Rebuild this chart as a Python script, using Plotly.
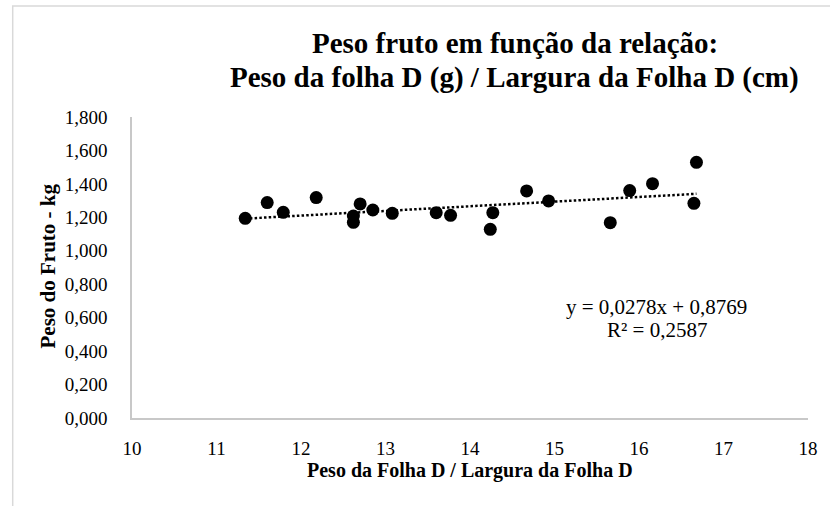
import plotly.graph_objects as go

# Data
x_vals = [11.34, 11.60, 11.79, 12.18, 12.62, 12.62, 12.70, 12.85, 13.08, 13.60,
          13.77, 14.27, 14.24, 14.67, 14.93, 15.66, 15.89, 16.16, 16.68, 16.65]
y_vals = [1.194, 1.288, 1.230, 1.318, 1.208, 1.170, 1.280, 1.244, 1.224, 1.228,
          1.212, 1.228, 1.128, 1.358, 1.298, 1.168, 1.360, 1.401, 1.529, 1.284]

trend_slope = 0.0278
trend_intercept = 0.8769
r_squared = 0.2587

y_ticks = [0.0, 0.2, 0.4, 0.6, 0.8, 1.0, 1.2, 1.4, 1.6, 1.8]
y_tick_text = ["0,000", "0,200", "0,400", "0,600", "0,800", "1,000", "1,200", "1,400", "1,600", "1,800"]
x_ticks = [10, 11, 12, 13, 14, 15, 16, 17, 18]

title_line1 = "Peso fruto em função da relação:"
title_line2 = "Peso da folha D (g) / Largura da Folha D (cm)"
x_title = "Peso da Folha D / Largura da Folha D"
y_title = "Peso do Fruto - kg"

FONT = "Liberation Serif, Times New Roman, serif"

x_min, x_max = min(x_vals), max(x_vals)
trend_x = [x_min, x_max]
trend_y = [trend_slope * v + trend_intercept for v in trend_x]

fig = go.Figure()
fig.add_trace(go.Scatter(
    x=trend_x, y=trend_y, mode="lines",
    line=dict(color="black", width=2.5, dash="2.5px,2.2px"),
    hoverinfo="skip", showlegend=False,
))
fig.add_trace(go.Scatter(
    x=x_vals, y=y_vals, mode="markers",
    marker=dict(color="black", size=13),
    showlegend=False,
))

W, H = 830, 506
L, R, T, B = 132, 18, 117, 88
pw, ph = W - L - R, H - T - B

def px_x(p):
    return (p - L) / pw

def px_y(p):
    return (H - B - p) / ph

fig.update_layout(
    width=W, height=H,
    margin=dict(l=L, r=R, t=T, b=B),
    paper_bgcolor="white", plot_bgcolor="white",
    font=dict(family=FONT, color="black", size=19),
    xaxis=dict(
        range=[10, 18], tickvals=x_ticks, showgrid=False, zeroline=False,
        showline=True, linecolor="#c8c8c8", linewidth=1.5,
        ticks="", ticklabelstandoff=12,
        tickfont=dict(family=FONT, size=19, color="black"),
    ),
    yaxis=dict(
        range=[0, 1.8], tickvals=y_ticks, ticktext=y_tick_text, showgrid=False,
        zeroline=False, showline=True, linecolor="#c8c8c8", linewidth=1.5,
        ticks="", ticklabelstandoff=19,
        tickfont=dict(family=FONT, size=19, color="black"),
    ),
    showlegend=False,
)

# Outer chart frame (extends beyond image on right/bottom)
fig.add_shape(type="rect", xref="paper", yref="paper",
              x0=px_x(12), x1=px_x(W + 40), y0=px_y(H + 40), y1=px_y(6),
              line=dict(color="#d9d9d9", width=1.5), fillcolor="rgba(0,0,0,0)",
              layer="below")

# Title (two lines)
fig.add_annotation(
    xref="paper", yref="paper", x=px_x(517), y=px_y(43),
    text=f"<b>{title_line1}</b>", showarrow=False,
    xanchor="center", yanchor="middle",
    font=dict(family=FONT, size=29, color="black"),
)
fig.add_annotation(
    xref="paper", yref="paper", x=px_x(517), y=px_y(78),
    text=f"<b>{title_line2}</b>", showarrow=False,
    xanchor="center", yanchor="middle",
    font=dict(family=FONT, size=29, color="black"),
)

# Axis titles
fig.add_annotation(
    xref="paper", yref="paper", x=px_x(472), y=px_y(470),
    text=f"<b>{x_title}</b>", showarrow=False,
    xanchor="center", yanchor="middle",
    font=dict(family=FONT, size=20, color="black"),
)
fig.add_annotation(
    xref="paper", yref="paper", x=px_x(48), y=px_y(266),
    text=f"<b>{y_title}</b>", showarrow=False, textangle=-90,
    xanchor="center", yanchor="middle",
    font=dict(family=FONT, size=21, color="black"),
)

# Trendline equation
def fmt(v):
    return str(v).replace(".", ",")

fig.add_annotation(
    xref="paper", yref="paper", x=px_x(660), y=px_y(307),
    text=f"y = {fmt(trend_slope)}x + {fmt(trend_intercept)}",
    showarrow=False, xanchor="center", yanchor="middle",
    font=dict(family=FONT, size=21, color="black"),
)
fig.add_annotation(
    xref="paper", yref="paper", x=px_x(660), y=px_y(330),
    text=f"R² = {fmt(r_squared)}",
    showarrow=False, xanchor="center", yanchor="middle",
    font=dict(family=FONT, size=21, color="black"),
)

fig.write_html(
    "out.html",
    config={"displayModeBar": False},
    post_script="document.body.style.margin='0px';document.body.style.overflow='hidden';",
)
